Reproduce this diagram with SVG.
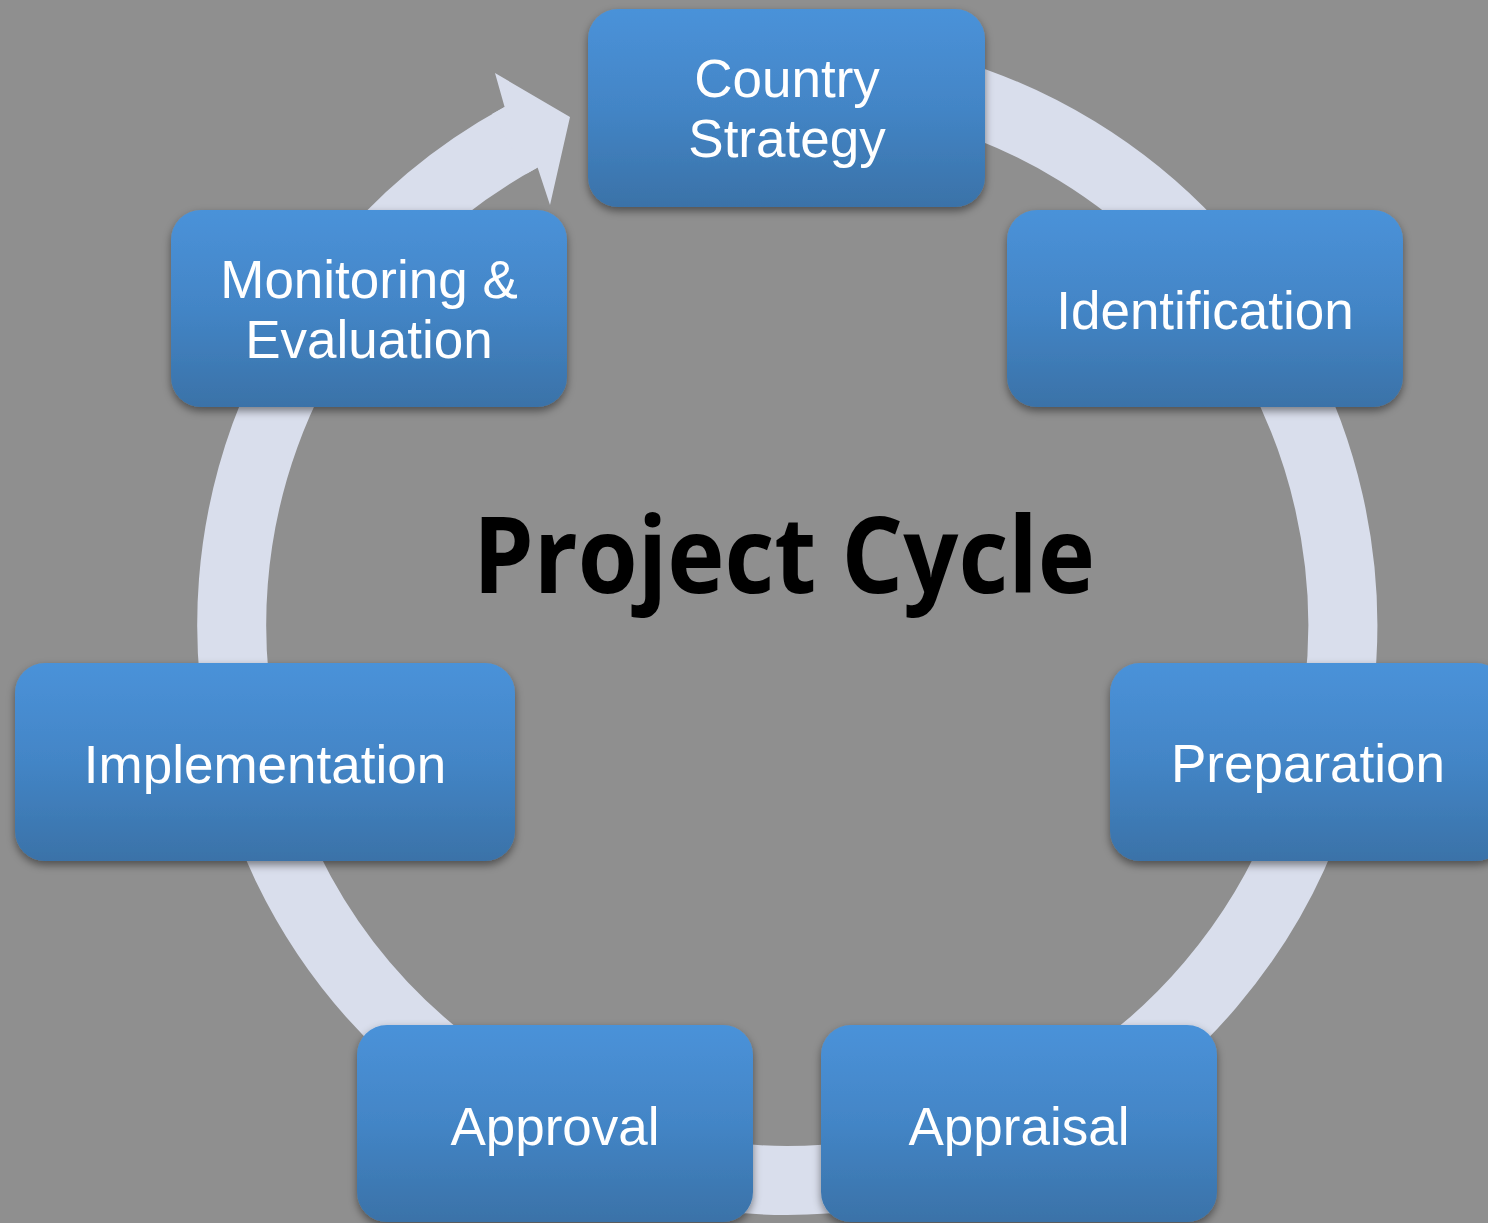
<svg xmlns="http://www.w3.org/2000/svg" width="1488" height="1223" viewBox="0 0 1488 1223">
  <defs>
    <linearGradient id="boxGrad" x1="0" y1="0" x2="0" y2="1">
      <stop offset="0" stop-color="#4A92D9"/>
      <stop offset="0.5" stop-color="#4385C6"/>
      <stop offset="1" stop-color="#3A72A8"/>
    </linearGradient>
    <filter id="shadow" x="-10%" y="-10%" width="120%" height="130%">
      <feDropShadow dx="0" dy="4" stdDeviation="4" flood-color="#000" flood-opacity="0.45"/>
    </filter>
  </defs>
  <style>
    .box { fill: url(#boxGrad); filter: url(#shadow); }
    .lbl { font-family: "Liberation Sans", Arial, sans-serif; font-size: 53px; fill: #FFFFFF; text-anchor: middle; }
    .title { font-family: "Open Sans", "Noto Sans", sans-serif; font-size: 106px; font-weight: bold; fill: #000000; text-anchor: middle; }
    .ring { fill: none; stroke: #D9DEEC; stroke-width: 69; stroke-linecap: butt; }
    .head { fill: #D9DEEC; }
  </style>
  <rect x="0" y="0" width="1488" height="1223" fill="#8F8F8F"/>

  <g id="connectors">
    <path class="ring" d="M 690.5 77.9 A 555.5 555.5 0 1 1 521.1 137.3"/>
    <polygon class="head" points="492,114 504.6,107 495,73 570,117 550,205 537.6,167.6 526.5,173.8"/>
  </g>

  <text class="title" x="784" y="593" textLength="622" lengthAdjust="spacingAndGlyphs">Project Cycle</text>

  <g id="node-country-strategy">
    <rect class="box" x="588" y="9" width="397" height="198" rx="30" ry="30"/>
    <text class="lbl" x="787" y="97"><tspan x="787" y="97">Country</tspan><tspan x="787" dy="60">Strategy</tspan></text>
  </g>
  <g id="node-identification">
    <rect class="box" x="1007" y="210" width="396" height="197" rx="30" ry="30"/>
    <text class="lbl" x="1205" y="329">Identification</text>
  </g>
  <g id="node-preparation">
    <rect class="box" x="1110" y="663" width="396" height="198" rx="30" ry="30"/>
    <text class="lbl" x="1308" y="782">Preparation</text>
  </g>
  <g id="node-appraisal">
    <rect class="box" x="821" y="1025" width="396" height="197" rx="30" ry="30"/>
    <text class="lbl" x="1019" y="1145">Appraisal</text>
  </g>
  <g id="node-approval">
    <rect class="box" x="357" y="1025" width="396" height="197" rx="30" ry="30"/>
    <text class="lbl" x="555" y="1145">Approval</text>
  </g>
  <g id="node-implementation">
    <rect class="box" x="15" y="663" width="500" height="198" rx="30" ry="30"/>
    <text class="lbl" x="265" y="783">Implementation</text>
  </g>
  <g id="node-monitoring-evaluation">
    <rect class="box" x="171" y="210" width="396" height="197" rx="30" ry="30"/>
    <text class="lbl" x="369" y="298"><tspan x="369" y="298">Monitoring &amp;</tspan><tspan x="369" dy="60">Evaluation</tspan></text>
  </g>
</svg>
